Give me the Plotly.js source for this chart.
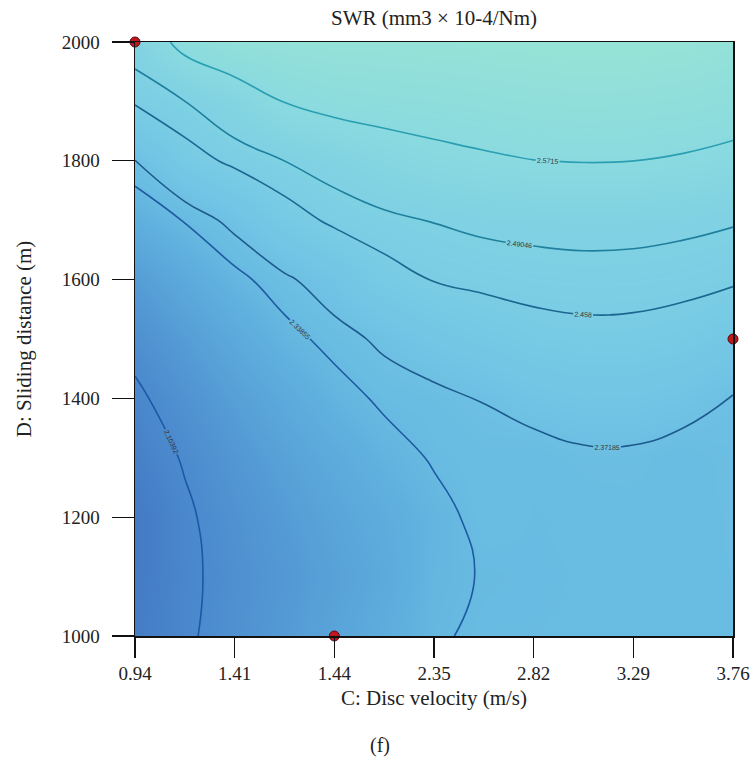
<!DOCTYPE html>
<html>
<head>
<meta charset="utf-8">
<script src="https://cdn.plot.ly/plotly-3.0.1.min.js"></script>
<style>html,body{margin:0;padding:0;background:#fff;}#chart{width:751px;height:768px;}</style>
</head>
<body>
<div id="chart"></div>
<script>
// C: Disc velocity (m/s) grid
const discVelocity = [0.94, 1.175, 1.41, 1.645, 1.88, 2.115, 2.35, 2.585, 2.82, 3.055, 3.29, 3.525, 3.76];
// D: Sliding distance (m) grid
const slidingDistance = [1000, 1100, 1200, 1300, 1400, 1500, 1600, 1700, 1800, 1900, 2000];
// SWR values (rows = sliding distance, cols = disc velocity)
const swr = [
  [2.0397, 2.0905, 2.1408, 2.1894, 2.2362, 2.2814, 2.332, 2.348, 2.348, 2.350, 2.352, 2.353, 2.358],
  [2.0316, 2.0861, 2.1350, 2.1785, 2.2206, 2.2646, 2.326, 2.3414, 2.346, 2.349, 2.352, 2.351, 2.359],
  [2.0266, 2.0902, 2.1462, 2.1945, 2.2386, 2.2799, 2.320, 2.355, 2.3475, 2.351, 2.354, 2.350, 2.361],
  [2.0552, 2.1112, 2.1711, 2.2243, 2.2699, 2.3130, 2.3442, 2.3561, 2.3496, 2.3630, 2.3632, 2.3504, 2.364],
  [2.0866, 2.1488, 2.2102, 2.2665, 2.3152, 2.3489, 2.358, 2.374, 2.3951, 2.4040, 2.4035, 2.3931, 2.369],
  [2.1328, 2.1993, 2.2632, 2.3207, 2.3555, 2.3809, 2.4088, 2.4252, 2.4389, 2.4449, 2.4438, 2.4357, 2.4178],
  [2.1973, 2.2649, 2.3245, 2.3641, 2.397, 2.4404, 2.4598, 2.4682, 2.4742, 2.4767, 2.4758, 2.4716, 2.4634],
  [2.295, 2.342, 2.3869, 2.4358, 2.4671, 2.4810, 2.4923, 2.500, 2.503, 2.505, 2.504, 2.500, 2.494],
  [2.3710, 2.437, 2.4682, 2.4906, 2.510, 2.535, 2.5517, 2.5623, 2.5707, 2.5735, 2.5717, 2.5651, 2.5536],
  [2.4635, 2.4901, 2.527, 2.5734, 2.5942, 2.6017, 2.6063, 2.6137, 2.6213, 2.6239, 2.6222, 2.6162, 2.606],
  [2.513, 2.5955, 2.635, 2.645, 2.65, 2.652, 2.655, 2.658, 2.662, 2.665, 2.665, 2.66, 2.645]
];
// contour levels labelled on the map
const contourLevels = [2.10392, 2.33855, 2.37185, 2.458, 2.49046, 2.5715];
const contourColors = ['#1f56a6', '#1d5aa0', '#1c5a8e', '#1d6690', '#1f7f9c', '#2a9fb2'];
// design points
const pointVelocity = [0.94, 1.88, 3.76];
const pointDistance = [2000, 1000, 1500];
// axis ticks
const xTickVals = [0.94, 1.41, 1.88, 2.35, 2.82, 3.29, 3.76];
const xTickText = ['0.94', '1.41', '1.44', '2.35', '2.82', '3.29', '3.76'];
const yTickVals = [1000, 1200, 1400, 1600, 1800, 2000];

const serif = 'Liberation Serif, Times New Roman, serif';

const traces = [];
traces.push({
  type: 'heatmap', x: discVelocity, y: slidingDistance, z: swr,
  zsmooth: 'best', zmin: 2.02, zmax: 2.67, showscale: false, hoverinfo: 'skip',
  colorscale: [
    [0, '#4279c3'], [0.123, '#4b89cd'], [0.277, '#559dd6'], [0.431, '#60b0de'],
    [0.508, '#69bce2'], [0.585, '#72c5e4'], [0.677, '#7acde4'], [0.769, '#83d4e2'],
    [0.862, '#8bdbdf'], [1, '#97e3d6']
  ]
});
contourLevels.forEach((lv, k) => {
  traces.push({
    type: 'contour', x: discVelocity, y: slidingDistance, z: swr,
    autocontour: false, showscale: false, hoverinfo: 'skip',
    contours: {start: lv, end: lv, size: 1, coloring: 'none', showlabels: true,
      labelfont: {family: 'Liberation Sans, Arial, sans-serif', size: 7, color: '#333'}},
    line: {color: contourColors[k], width: 1.6, smoothing: 1.3}
  });
});
traces.push({
  type: 'scatter', mode: 'markers', x: pointVelocity, y: pointDistance,
  cliponaxis: false, hoverinfo: 'skip',
  marker: {size: 10, color: '#c0161c', line: {color: '#5a0a10', width: 1}}
});

const layout = {
  width: 751, height: 768,
  margin: {l: 135, r: 18, t: 42, b: 132},
  paper_bgcolor: '#ffffff', plot_bgcolor: '#ffffff',
  showlegend: false,
  font: {family: serif, size: 19, color: '#222'},
  title: {text: 'SWR (mm3 × 10-4/Nm)', xref: 'paper', x: 0.5, xanchor: 'center',
    yref: 'container', y: 0.977, yanchor: 'middle', font: {family: serif, size: 21, color: '#222'}},
  xaxis: {
    range: [0.94, 3.76], tickmode: 'array', tickvals: xTickVals, ticktext: xTickText,
    ticks: 'outside', ticklen: 20, tickwidth: 1.2, tickcolor: '#111',
    showline: true, linecolor: '#111', linewidth: 1.5, mirror: true,
    showgrid: false, zeroline: false, automargin: false,
    tickfont: {family: serif, size: 19, color: '#222'},
    title: {text: 'C: Disc velocity (m/s)', standoff: 7, font: {family: serif, size: 21, color: '#222'}}
  },
  yaxis: {
    range: [1000, 2000], tickmode: 'array', tickvals: yTickVals,
    ticks: 'outside', ticklen: 22, tickwidth: 1.2, tickcolor: '#111',
    ticklabelstandoff: 8,
    showline: true, linecolor: '#111', linewidth: 1.5, mirror: true,
    showgrid: false, zeroline: false, automargin: false,
    tickfont: {family: serif, size: 19, color: '#222'},
    title: {text: 'D: Sliding distance (m)', standoff: 24, font: {family: serif, size: 21, color: '#222'}}
  },
  annotations: [{
    text: '(f)', xref: 'paper', yref: 'paper', x: 0.41, y: -0.184,
    xanchor: 'center', yanchor: 'middle', showarrow: false,
    font: {family: serif, size: 20, color: '#222'}
  }]
};

Plotly.newPlot('chart', traces, layout, {staticPlot: true, displayModeBar: false});
</script>
</body>
</html>
